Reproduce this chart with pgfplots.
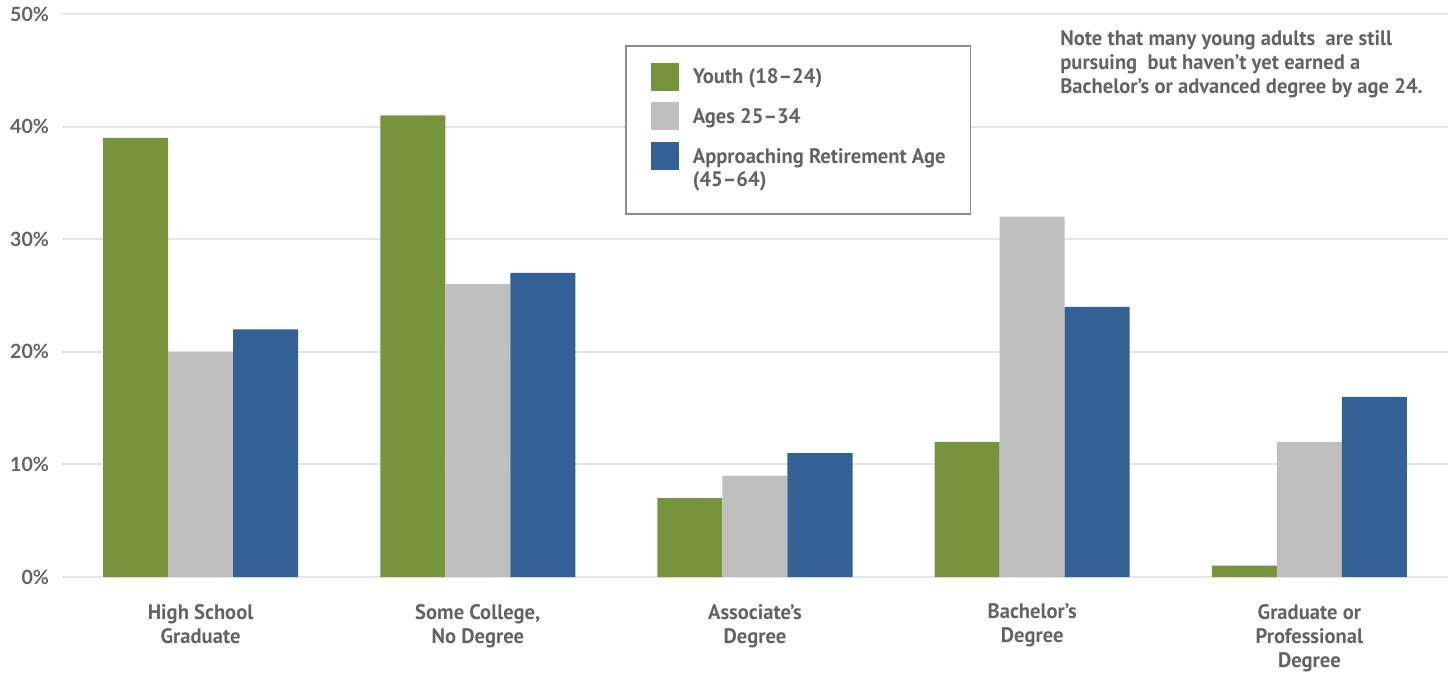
\documentclass[border=0pt]{standalone}
\usepackage{pgfplots}
\pgfplotsset{compat=1.18}
\usepackage{fontspec}
\setmainfont{PT Sans}[FakeStretch=0.98]
\newfontfamily\latofont{Lato}
\definecolor{cgreen}{HTML}{77933C}
\definecolor{cgray}{HTML}{BFBFBF}
\definecolor{cblue}{HTML}{336195}
\definecolor{ctext}{HTML}{636363}
\definecolor{cgrid}{HTML}{E6E6E6}
\definecolor{cborder}{HTML}{8C8C8C}
\begin{document}
\begin{tikzpicture}
\useasboundingbox (-31pt,-49pt) rectangle (695pt,288.5pt);
\begin{axis}[
 at={(0,0)}, anchor=south west, scale only axis,
 width=693pt, height=281.5pt,
 xmin=-0.5, xmax=4.5, ymin=0, ymax=50,
 ybar=0pt, bar width=32.5pt,
 axis line style={draw=none}, major tick length=0pt,
 ymajorgrids, grid style={cgrid, line width=1pt},
 ytick={0,10,...,50},
 yticklabel={\pgfmathprintnumber{\tick}\%},
 yticklabel style={font=\latofont\bfseries\fontsize{9.8}{12}\selectfont, text=ctext, xshift=-3pt},
 xtick={0,...,4},
 xticklabels={{High School\\Graduate},{Some College,\\No Degree},{Associate’s\\Degree},{Bachelor’s\\Degree},{Graduate or\\Professional\\Degree}},
 xticklabel style={align=center, font=\bfseries\fontsize{10.5}{12}\selectfont, text=ctext, yshift=-10pt},
 /pgf/number format/assume math mode=true,
 legend image code/.code={\path[#1,draw=none] (0pt,-3.4pt) rectangle (14pt,10.6pt);},
 legend style={at={(0.4062,0.945)}, anchor=north west, draw=cborder, line width=0.8pt,
   inner xsep=12.5pt, inner ysep=8.5pt, row sep=5.8pt, column sep=7pt,
   nodes={anchor=base west, inner sep=0pt, text=ctext, font=\bfseries\fontsize{10.5}{11.5}\selectfont}},
]
\addplot[fill=cgreen, draw=none] coordinates {(0,39) (1,41) (2,7) (3,12) (4,1)};
\addlegendentry{Youth (18–24)}
\addplot[fill=cgray, draw=none] coordinates {(0,20) (1,26) (2,9) (3,32) (4,12)};
\addlegendentry{Ages 25–34}
\addplot[fill=cblue, draw=none, legend image code/.code={\fill[cblue] (0pt,-3.4pt) rectangle (14pt,10.6pt); \path (0pt,-17pt);}] coordinates {(0,22) (1,27) (2,11) (3,24) (4,16)};
\addlegendentry{\vtop{\hbox{Approaching Retirement Age}\hbox{(45–64)}}}
\node[anchor=north west, align=left, font=\bfseries\fontsize{10.5}{12}\selectfont, text=ctext, inner sep=0pt] at (rel axis cs:0.72,0.972) {Note that many young adults\ \ are still\\pursuing\ \ but haven’t yet earned a\\Bachelor’s or advanced degree by age 24.};
\end{axis}
\end{tikzpicture}
\end{document}
